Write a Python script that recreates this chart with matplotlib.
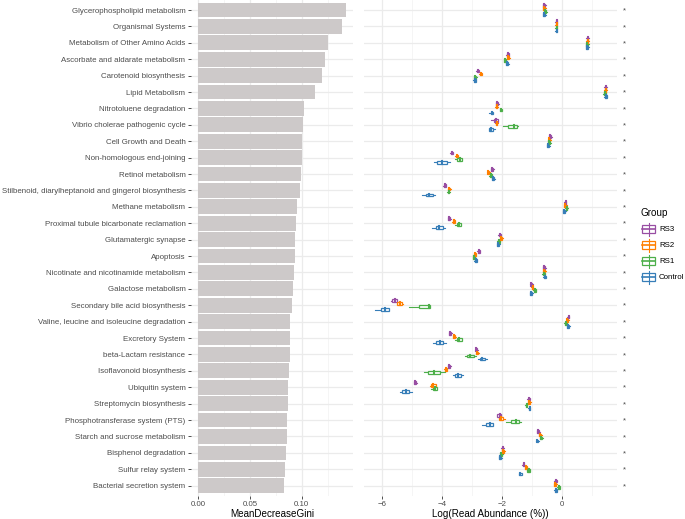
import matplotlib
matplotlib.use("Agg")
import matplotlib.pyplot as plt
from matplotlib.patches import Rectangle

plt.rcParams["font.family"] = ["Liberation Sans", "DejaVu Sans"]

categories = [
    "Glycerophospholipid metabolism",
    "Organismal Systems",
    "Metabolism of Other Amino Acids",
    "Ascorbate and aldarate metabolism",
    "Carotenoid biosynthesis",
    "Lipid Metabolism",
    "Nitrotoluene degradation",
    "Vibrio cholerae pathogenic cycle",
    "Cell Growth and Death",
    "Non-homologous end-joining",
    "Retinol metabolism",
    "Stilbenoid, diarylheptanoid and gingerol biosynthesis",
    "Methane metabolism",
    "Proximal tubule bicarbonate reclamation",
    "Glutamatergic synapse",
    "Apoptosis",
    "Nicotinate and nicotinamide metabolism",
    "Galactose metabolism",
    "Secondary bile acid biosynthesis",
    "Valine, leucine and isoleucine degradation",
    "Excretory System",
    "beta-Lactam resistance",
    "Isoflavonoid biosynthesis",
    "Ubiquitin system",
    "Streptomycin biosynthesis",
    "Phosphotransferase system (PTS)",
    "Starch and sucrose metabolism",
    "Bisphenol degradation",
    "Sulfur relay system",
    "Bacterial secretion system",
]

# MeanDecreaseGini (random forest importance)
gini = [0.1425, 0.1390, 0.1257, 0.1225, 0.1193, 0.1128, 0.1025, 0.1010, 0.1003, 0.1000,
        0.0993, 0.0980, 0.0951, 0.0942, 0.0935, 0.0933, 0.0922, 0.0913, 0.0903, 0.0890,
        0.0887, 0.0884, 0.0881, 0.0867, 0.0865, 0.0858, 0.0857, 0.0848, 0.0842, 0.0832]

# medians of log(read abundance) per group
med_rs3 = [-0.60, -0.19, 0.84, -1.82, -2.82, 1.44, -2.17, -2.21, -0.41, -3.68,
           -2.33, -3.91, 0.11, -3.77, -2.08, -2.78, -0.61, -1.03, -5.58, 0.21,
           -3.73, -2.86, -3.77, -4.90, -1.12, -2.09, -0.80, -1.99, -1.29, -0.22]
med_rs2 = [-0.60, -0.19, 0.84, -1.80, -2.71, 1.44, -2.19, -2.19, -0.43, -3.52,
           -2.46, -3.77, 0.09, -3.61, -2.04, -2.91, -0.61, -0.99, -5.42, 0.17,
           -3.60, -2.83, -3.88, -4.30, -1.10, -2.04, -0.74, -1.97, -1.21, -0.24]
med_rs1 = [-0.57, -0.19, 0.83, -1.90, -2.90, 1.42, -2.04, -1.62, -0.44, -3.41,
           -2.38, -3.79, 0.14, -3.43, -2.12, -2.94, -0.62, -0.92, -4.45, 0.12,
           -3.43, -3.06, -4.27, -4.24, -1.19, -1.56, -0.70, -2.04, -1.12, -0.12]
med_ctrl = [-0.61, -0.19, 0.83, -1.83, -2.92, 1.45, -2.34, -2.38, -0.47, -4.00,
            -2.30, -4.43, 0.06, -4.11, -2.14, -2.88, -0.58, -1.04, -5.92, 0.19,
            -4.08, -2.66, -3.47, -5.22, -1.09, -2.41, -0.83, -2.07, -1.40, -0.22]

# boxes that are wider than a sliver: (whisker low, q1, q3, whisker high)
wide_rs3 = {
    "Vibrio cholerae pathogenic cycle": (-2.36, -2.27, -2.13, -2.13),
    "Secondary bile acid biosynthesis": (-5.72, -5.66, -5.50, -5.50),
    "Phosphotransferase system (PTS)": (-2.19, -2.16, -2.03, -2.03),
}
wide_rs2 = {
    "Secondary bile acid biosynthesis": (-5.50, -5.50, -5.34, -5.30),
    "Ubiquitin system": (-4.41, -4.38, -4.22, -4.22),
    "Phosphotransferase system (PTS)": (-2.10, -2.10, -1.99, -1.92),
}
wide_rs1 = {
    "Nitrotoluene degradation": (-2.08, -2.08, -2.01, -2.01),
    "Vibrio cholerae pathogenic cycle": (-1.97, -1.81, -1.52, -1.47),
    "Non-homologous end-joining": (-3.58, -3.50, -3.33, -3.33),
    "Proximal tubule bicarbonate reclamation": (-3.58, -3.50, -3.36, -3.36),
    "Secondary bile acid biosynthesis": (-5.11, -4.79, -4.42, -4.42),
    "Excretory System": (-3.58, -3.52, -3.34, -3.34),
    "beta-Lactam resistance": (-3.24, -3.17, -2.94, -2.89),
    "Isoflavonoid biosynthesis": (-4.61, -4.47, -4.08, -3.91),
    "Ubiquitin system": (-4.36, -4.32, -4.17, -4.17),
    "Phosphotransferase system (PTS)": (-1.89, -1.71, -1.44, -1.39),
    "Sulfur relay system": (-1.19, -1.19, -1.06, -1.06),
}
wide_ctrl = {
    "Nitrotoluene degradation": (-2.44, -2.39, -2.30, -2.30),
    "Vibrio cholerae pathogenic cycle": (-2.44, -2.44, -2.30, -2.24),
    "Non-homologous end-joining": (-4.27, -4.16, -3.83, -3.73),
    "Stilbenoid, diarylheptanoid and gingerol biosynthesis": (-4.69, -4.56, -4.30, -4.24),
    "Proximal tubule bicarbonate reclamation": (-4.33, -4.21, -3.99, -3.90),
    "Secondary bile acid biosynthesis": (-6.24, -6.04, -5.77, -5.77),
    "Excretory System": (-4.30, -4.21, -3.97, -3.88),
    "beta-Lactam resistance": (-2.80, -2.74, -2.58, -2.52),
    "Isoflavonoid biosynthesis": (-3.63, -3.56, -3.39, -3.32),
    "Ubiquitin system": (-5.41, -5.33, -5.10, -5.02),
    "Phosphotransferase system (PTS)": (-2.68, -2.54, -2.32, -2.30),
    "Sulfur relay system": (-1.46, -1.46, -1.34, -1.34),
}

groups = ["RS3", "RS2", "RS1", "Control"]
group_colors = ["#984EA3", "#FF7F00", "#4DAF4A", "#377EB8"]
group_meds = [med_rs3, med_rs2, med_rs1, med_ctrl]
group_wide = [wide_rs3, wide_rs2, wide_rs1, wide_ctrl]

grid_col = "#EBEBEB"
text_col = "#4D4D4D"
W, H = 685, 519

fig = plt.figure(figsize=(W / 100, H / 100), dpi=100)
ax_top = 0.16
ax_bot = 495.54
ax1 = fig.add_axes([191.0 / W, 1 - ax_bot / H, 162.0 / W, (ax_bot - ax_top) / H])
ax2 = fig.add_axes([363.55 / W, 1 - ax_bot / H, 253.8 / W, (ax_bot - ax_top) / H])

n = len(categories)
rows = list(range(n))

def style(ax):
    for s in ax.spines.values():
        s.set_visible(False)
    ax.set_ylim(n - 0.4, -0.6)
    ax.set_yticks(rows)
    ax.grid(True, which="major", color=grid_col, lw=0.9)
    ax.grid(True, which="minor", axis="x", color="#F4F4F4", lw=0.6)
    ax.set_axisbelow(True)
    ax.tick_params(axis="both", which="major", length=2.5, width=0.6, color="#333333",
                   labelsize=5.7, labelcolor=text_col, pad=1.5)
    ax.tick_params(axis="both", which="minor", length=0)

# left panel: bars
style(ax1)
ax1.barh(rows, gini, height=0.9, color="#CDC9C9", zorder=2)
ax1.set_xlim(-0.0071, 0.1496)
ax1.set_xticks([0.0, 0.05, 0.10])
ax1.set_xticklabels(["0.00", "0.05", "0.10"])
ax1.set_xticks([0.025, 0.075, 0.125], minor=True)
ax1.set_yticklabels(categories)
ax1.set_xlabel("MeanDecreaseGini", fontsize=7.15, color="black", labelpad=0.5)

# right panel: dodged boxplots
style(ax2)
ax2.set_xlim(-6.625, 1.835)
ax2.set_xticks([-6, -4, -2, 0])
ax2.set_xticks([-5, -3, -1, 1], minor=True)
ax2.set_yticklabels(["*"] * n)
ax2.yaxis.tick_right()
ax2.tick_params(axis="y", length=0, pad=4)
ax2.set_xlabel("Log(Read Abundance (%))", fontsize=7.15, color="black", labelpad=0.5)

offsets = [-0.281, -0.094, 0.094, 0.281]
bh = 0.17
for color, off, med, wide in zip(group_colors, offsets, group_meds, group_wide):
    for i, cat in enumerate(categories):
        m = med[i]
        wlo, q1, q3, whi = wide.get(cat, (m - 0.05, m - 0.03, m + 0.03, m + 0.05))
        y = i + off
        ax2.plot([wlo, q1], [y, y], color=color, lw=0.8, zorder=3)
        ax2.plot([q3, whi], [y, y], color=color, lw=0.8, zorder=3)
        ax2.add_patch(Rectangle((q1, y - bh / 2), q3 - q1, bh, facecolor="white",
                                edgecolor=color, lw=0.9, zorder=4))
        ax2.plot([m, m], [y - bh / 2, y + bh / 2], color=color, lw=1.5, zorder=5)

# legend drawn in pixel coordinates
axl = fig.add_axes([628 / W, 1 - 300 / H, 57 / W, 110 / H])
axl.set_xlim(628, 685)
axl.set_ylim(300, 190)
axl.axis("off")
axl.text(640.5, 213, "Group", fontsize=7.15, color="black", va="center", ha="left")
for k, (g, color) in enumerate(zip(groups, group_colors)):
    yc = 229 + 16 * k
    axl.plot([648.7, 648.7], [yc - 6.5, yc + 6.5], color=color, lw=0.8)
    axl.add_patch(Rectangle((642.3, yc - 4), 12.8, 8, facecolor="white", edgecolor=color, lw=0.9))
    axl.plot([642.3, 655.1], [yc, yc], color=color, lw=1.2)
    axl.text(659, yc, g, fontsize=5.7, color="black", va="center", ha="left")

fig.savefig("out.png", dpi=100)
